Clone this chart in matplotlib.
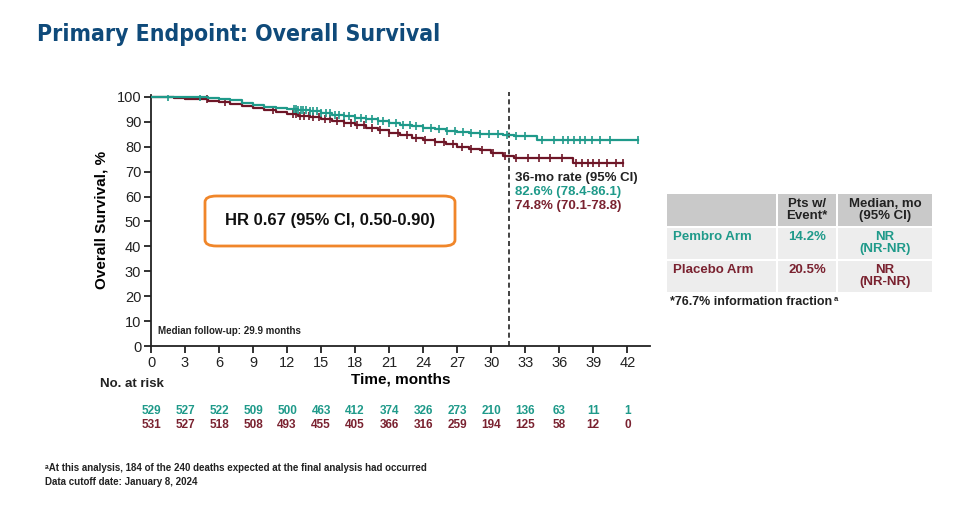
import numpy as np
import matplotlib
matplotlib.use("Agg")
import matplotlib.pyplot as plt
from matplotlib.patches import FancyBboxPatch, Rectangle
from matplotlib import font_manager as fm

plt.rcParams['font.family'] = ['Liberation Sans', 'DejaVu Sans']

TEAL = "#1f9a8a"
MAROON = "#6e1627"
MAROON_TXT = "#7a2230"
NAVY = "#0f4a7a"

# ---------------- data ----------------
pembro_t = [0, 1.5, 3, 5, 6, 7, 8, 9, 10, 11, 12, 13, 14, 15, 16, 17, 18, 19, 20, 21,
            22, 23, 24, 25, 26, 27, 28, 29, 30, 31, 32, 34.0, 42.9]
pembro_s = [100, 100, 99.8, 99.6, 99.2, 98.6, 97.6, 96.8, 96.0, 95.4, 95.0, 94.6, 94.2,
            93.6, 92.8, 92.2, 91.6, 91.0, 90.4, 89.6, 88.8, 88.2, 87.6, 87.0, 86.5, 86.1,
            85.7, 85.3, 85.0, 84.7, 84.4, 82.7, 82.7]
placebo_t = [0, 1, 2, 3, 4, 5, 6, 7, 8, 9, 10, 11, 12, 13, 14, 15, 16, 17, 18, 19, 20,
             21, 22, 23, 24, 25, 26, 27, 28, 29, 30, 31, 32, 37.2, 41.6]
placebo_s = [100, 99.8, 99.5, 99.3, 99.1, 98.5, 97.8, 97.3, 96.5, 95.6, 94.8, 94.0, 93.0,
             92.4, 91.8, 91.0, 90.2, 89.4, 88.6, 87.6, 86.8, 85.6, 84.6, 83.6, 82.8, 82.0,
             81.0, 80.0, 79.2, 78.7, 77.6, 76.5, 75.4, 73.5, 73.5]
pembro_cens = [1.5, 4.3, 12.6, 12.8, 13.0, 13.2, 13.4, 13.7, 14.0, 14.3, 14.6, 15.0, 15.4,
               15.8, 16.2, 16.6, 17.0, 17.5, 18.0, 18.5, 19.0, 19.5, 20.0, 20.5, 21.0, 21.6,
               22.2, 22.8, 23.4, 24.0, 24.7, 25.4, 26.1, 26.8, 27.5, 28.2, 29.0, 29.8, 30.6,
               31.4, 32.2, 33.0, 34.5, 35.5, 36.3, 36.8, 37.3, 37.8, 38.3, 38.9, 39.6, 40.5, 42.9]
placebo_cens = [4.9, 6.5, 10.8, 12.5, 12.8, 13.1, 13.5, 13.9, 14.3, 14.8, 15.3, 15.8, 16.4,
                17.0, 17.6, 18.2, 18.8, 19.5, 20.2, 21.0, 21.8, 22.6, 23.4, 24.2, 25.0, 25.8,
                26.6, 27.4, 28.2, 29.2, 30.2, 31.2, 32.2, 33.2, 34.2, 35.2, 36.2, 37.5, 38.0,
                38.5, 39.0, 39.5, 40.2, 41.0, 41.6]
risk_times = [0, 3, 6, 9, 12, 15, 18, 21, 24, 27, 30, 33, 36, 39, 42]
risk_pembro = [529, 527, 522, 509, 500, 463, 412, 374, 326, 273, 210, 136, 63, 11, 1]
risk_placebo = [531, 527, 518, 508, 493, 455, 405, 366, 316, 259, 194, 125, 58, 12, 0]
y_ticks = [0, 10, 20, 30, 40, 50, 60, 70, 80, 90, 100]
cutoff_month = 31.6

names = {f.name for f in fm.fontManager.ttflist}
if 'Liberation Sans Narrow' in names:
    COND = dict(family=['Liberation Sans Narrow', 'DejaVu Sans'])
else:
    COND = dict(family=['DejaVu Sans'], fontstretch='condensed')

W, H = 960, 508
fig = plt.figure(figsize=(W / 100, H / 100), dpi=100)

def fx(x):
    return x / W

def fy(y):
    return 1 - y / H

ax = fig.add_axes([fx(151), fy(346), (650 - 151) / W, (346 - 94.5) / H])
ax.set_xlim(0, 44)
ax.set_ylim(0, 101)
for s in ['top', 'right']:
    ax.spines[s].set_visible(False)
for s in ['left', 'bottom']:
    ax.spines[s].set_linewidth(1.3)
    ax.spines[s].set_color('#222222')
ax.set_xticks(risk_times)
ax.set_yticks(y_ticks)
ax.tick_params(axis='both', direction='out', length=5, width=1.3, labelsize=10.5,
               colors='#222222', pad=2)

def step_val(ts, ss, t):
    idx = np.searchsorted(ts, t, side='right') - 1
    return np.asarray(ss)[idx]

for ts, ss, cens, col in [(placebo_t, placebo_s, placebo_cens, MAROON),
                          (pembro_t, pembro_s, pembro_cens, TEAL)]:
    ax.step(ts, ss, where='post', color=col, lw=1.6, zorder=3)
    cy = [step_val(ts, ss, c) for c in cens]
    ax.plot(cens, cy, ls='none', marker='|', ms=6, mew=1.2, color=col, zorder=3)

ax.plot([cutoff_month, cutoff_month], [0, 102], ls=(0, (3, 2)), color='#222222', lw=1.2,
        clip_on=False, zorder=2)

ax.set_ylabel("Overall Survival, %", fontsize=11, fontweight='bold', labelpad=6)
ax.set_xlabel("Time, months", fontsize=11, fontweight='bold', labelpad=2)

# HR box
box = FancyBboxPatch((fx(205), fy(246)), fx(455) - fx(205), fy(196) - fy(246),
                     boxstyle="round,pad=0,rounding_size=0.012", transform=fig.transFigure,
                     facecolor='white', edgecolor='#f0862a', lw=2, zorder=1)
fig.patches.append(box)
fig.text(fx(330), fy(221), "HR 0.67 (95% CI, 0.50-0.90)", fontsize=12, fontweight='bold',
         ha='center', va='center', color='#111111', zorder=10)

fig.text(fx(158), fy(331), "Median follow-up: 29.9 months", fontsize=7, fontweight='bold',
         ha='left', va='center', color='#222222')

# 36-mo rate
fig.text(fx(515), fy(178), "36-mo rate (95% CI)", fontsize=9.5, fontweight='bold',
         ha='left', va='center', color='#222222')
fig.text(fx(515), fy(192), "82.6% (78.4-86.1)", fontsize=9.5, fontweight='bold',
         ha='left', va='center', color=TEAL)
fig.text(fx(515), fy(206), "74.8% (70.1-78.8)", fontsize=9.5, fontweight='bold',
         ha='left', va='center', color=MAROON_TXT)

# Title
fig.text(fx(37), fy(35), "Primary Endpoint: Overall Survival", fontsize=16.5,
         fontweight='bold', ha='left', va='center', color=NAVY, **COND)

# number at risk
fig.text(fx(100), fy(384), "No. at risk", fontsize=9.5, fontweight='bold', ha='left',
         va='center', color='#222222')
for t, a, b in zip(risk_times, risk_pembro, risk_placebo):
    xd = ax.transData.transform((t, 0))[0] / W
    fig.text(xd, fy(411), str(a), fontsize=8.5, fontweight='bold', ha='center',
             va='center', color=TEAL)
    fig.text(xd, fy(425), str(b), fontsize=8.5, fontweight='bold', ha='center',
             va='center', color=MAROON_TXT)

# table
HDR = '#c9c9c9'
ROW = '#ededed'
cols = [(667, 776), (778, 836), (838, 932)]
rows = [(194, 226), (228, 259), (261, 292)]
for ri, (y0, y1) in enumerate(rows):
    for ci, (x0, x1) in enumerate(cols):
        col = HDR if ri == 0 else ROW
        fig.patches.append(Rectangle((fx(x0), fy(y1)), fx(x1) - fx(x0), fy(y0) - fy(y1),
                                     transform=fig.transFigure, facecolor=col,
                                     edgecolor='none', zorder=1))
tfs = 9.5
fig.text(fx(807), fy(210), "Pts w/\nEvent*", fontsize=tfs, fontweight='bold', ha='center',
         va='center', color='#222222', linespacing=1.0)
fig.text(fx(885), fy(210), "Median, mo\n(95% CI)", fontsize=tfs, fontweight='bold',
         ha='center', va='center', color='#222222', linespacing=1.0)
fig.text(fx(673), fy(237), "Pembro Arm", fontsize=tfs, fontweight='bold', ha='left',
         va='center', color=TEAL)
fig.text(fx(807), fy(237), "14.2%", fontsize=tfs, fontweight='bold', ha='center',
         va='center', color=TEAL)
fig.text(fx(885), fy(243), "NR\n(NR-NR)", fontsize=tfs, fontweight='bold', ha='center',
         va='center', color=TEAL, linespacing=1.0)
fig.text(fx(673), fy(270), "Placebo Arm", fontsize=tfs, fontweight='bold', ha='left',
         va='center', color=MAROON_TXT)
fig.text(fx(807), fy(270), "20.5%", fontsize=tfs, fontweight='bold', ha='center',
         va='center', color=MAROON_TXT)
fig.text(fx(885), fy(276), "NR\n(NR-NR)", fontsize=tfs, fontweight='bold', ha='center',
         va='center', color=MAROON_TXT, linespacing=1.0)
info = fig.text(fx(670), fy(302), "*76.7% information fraction", fontsize=9,
                fontweight='bold', ha='left', va='center', color='#222222')
fig.add_artist(matplotlib.text.Annotation(
    "a", xy=(1, 1), xycoords=info, xytext=(1, 0), textcoords='offset points',
    fontsize=5.5, fontweight='bold', ha='left', va='top', color='#222222'))

# footnotes
fig.text(fx(45), fy(468), "ᵃAt this analysis, 184 of the 240 deaths expected at the final analysis had occurred",
         fontsize=7, fontweight='bold', ha='left', va='center', color='#222222')
fig.text(fx(45), fy(482), "Data cutoff date: January 8, 2024", fontsize=7,
         fontweight='bold', ha='left', va='center', color='#222222')

fig.savefig("out.png", dpi=100, facecolor='white')
